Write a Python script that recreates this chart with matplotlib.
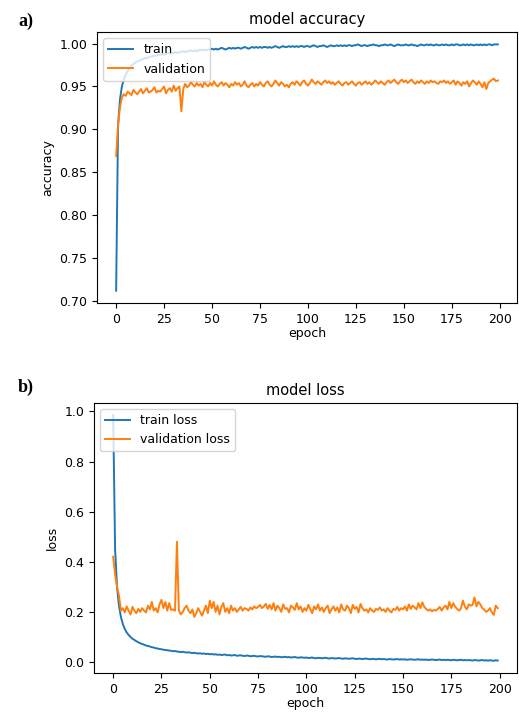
import matplotlib.pyplot as plt
import numpy as np

train_acc = [
    0.712, 0.905, 0.935, 0.950, 0.958, 0.964, 0.968, 0.971, 0.974, 0.976,
    0.978, 0.979, 0.980, 0.981, 0.982, 0.983, 0.983, 0.984, 0.985, 0.985,
    0.986, 0.986, 0.987, 0.987, 0.988, 0.987, 0.988, 0.989, 0.988, 0.989,
    0.989, 0.990, 0.989, 0.990, 0.990, 0.991, 0.990, 0.991, 0.991, 0.992,
    0.991, 0.992, 0.991, 0.992, 0.993, 0.992, 0.993, 0.992, 0.993, 0.993,
    0.994, 0.993, 0.994, 0.993, 0.994, 0.995, 0.994, 0.993, 0.994, 0.995,
    0.994, 0.995, 0.994, 0.995, 0.995, 0.994, 0.995, 0.996, 0.995, 0.994,
    0.995, 0.996, 0.995, 0.996, 0.995, 0.996, 0.995, 0.996, 0.996, 0.995,
    0.996, 0.995, 0.996, 0.997, 0.996, 0.995, 0.996, 0.997, 0.996, 0.996,
    0.997, 0.996, 0.997, 0.996, 0.997, 0.996, 0.997, 0.997, 0.996, 0.997,
    0.997, 0.996, 0.997, 0.998, 0.997, 0.996, 0.997, 0.997, 0.998, 0.997,
    0.996, 0.997, 0.998, 0.997, 0.997, 0.998, 0.997, 0.998, 0.997, 0.998,
    0.997, 0.998, 0.998, 0.997, 0.998, 0.998, 0.999, 0.998, 0.997, 0.998,
    0.998, 0.997, 0.998, 0.998, 0.999, 0.998, 0.998, 0.997, 0.998, 0.998,
    0.999, 0.998, 0.998, 0.999, 0.998, 0.997, 0.998, 0.999, 0.998, 0.998,
    0.998, 0.999, 0.998, 0.998, 0.999, 0.998, 0.998, 0.997, 0.998, 0.999,
    0.998, 0.998, 0.999, 0.998, 0.999, 0.998, 0.998, 0.999, 0.998, 0.998,
    0.999, 0.998, 0.999, 0.998, 0.998, 0.999, 0.998, 0.999, 0.999, 0.998,
    0.998, 0.999, 0.998, 0.999, 0.998, 0.999, 0.998, 0.998, 0.999, 0.998,
    0.999, 0.998, 0.999, 0.998, 0.999, 0.999, 0.998, 0.999, 0.999, 0.999,
]

val_acc = [
    0.869, 0.905, 0.926, 0.937, 0.941, 0.939, 0.944, 0.942, 0.940, 0.946,
    0.943, 0.941, 0.944, 0.947, 0.942, 0.945, 0.948, 0.943, 0.944, 0.946,
    0.949, 0.943, 0.945, 0.944, 0.947, 0.950, 0.942, 0.946, 0.948, 0.944,
    0.951, 0.945, 0.948, 0.950, 0.921, 0.947, 0.953, 0.949, 0.951, 0.955,
    0.952, 0.950, 0.954, 0.951, 0.953, 0.949, 0.955, 0.952, 0.950, 0.954,
    0.951, 0.956, 0.952, 0.950, 0.953, 0.955, 0.951, 0.954, 0.952, 0.949,
    0.953, 0.951, 0.955, 0.952, 0.954, 0.950, 0.952, 0.956, 0.951, 0.949,
    0.952, 0.954, 0.950, 0.953, 0.951, 0.955, 0.952, 0.950, 0.954, 0.956,
    0.952, 0.950, 0.953, 0.957, 0.954, 0.951, 0.955, 0.953, 0.950, 0.952,
    0.949, 0.953, 0.955, 0.952, 0.956, 0.954, 0.951, 0.955, 0.957, 0.953,
    0.951, 0.954, 0.958, 0.955, 0.953, 0.956, 0.954, 0.952, 0.955, 0.957,
    0.954, 0.956, 0.953, 0.955, 0.952, 0.954, 0.956, 0.953, 0.951, 0.954,
    0.955, 0.952, 0.954, 0.956, 0.953, 0.951, 0.954, 0.955, 0.952, 0.954,
    0.956, 0.953, 0.955, 0.952, 0.954, 0.957, 0.955, 0.953, 0.956, 0.954,
    0.952, 0.955, 0.957, 0.954, 0.956, 0.958, 0.955, 0.953, 0.956, 0.958,
    0.955, 0.957, 0.954, 0.956, 0.958, 0.955, 0.953, 0.956, 0.954, 0.957,
    0.955, 0.953, 0.956, 0.954, 0.957, 0.955, 0.956, 0.954, 0.953, 0.956,
    0.955, 0.957, 0.954, 0.956, 0.953, 0.955, 0.957, 0.952, 0.956, 0.954,
    0.951, 0.955, 0.953, 0.956, 0.950, 0.954, 0.957, 0.955, 0.952, 0.956,
    0.953, 0.949, 0.955, 0.947, 0.954, 0.956, 0.958, 0.959, 0.956, 0.957,
]

train_loss = [
    0.985, 0.450, 0.300, 0.225, 0.180, 0.152, 0.132, 0.118, 0.108, 0.100,
    0.093, 0.088, 0.083, 0.079, 0.075, 0.072, 0.069, 0.066, 0.064, 0.062,
    0.059, 0.058, 0.055, 0.054, 0.052, 0.051, 0.049, 0.048, 0.047, 0.046,
    0.045, 0.043, 0.044, 0.042, 0.041, 0.040, 0.041, 0.039, 0.038, 0.039,
    0.037, 0.036, 0.037, 0.035, 0.034, 0.035, 0.033, 0.034, 0.032, 0.033,
    0.031, 0.032, 0.030, 0.031, 0.029, 0.030, 0.028, 0.029, 0.030, 0.027,
    0.028, 0.026, 0.027, 0.028, 0.025, 0.026, 0.027, 0.025, 0.024, 0.026,
    0.025, 0.023, 0.024, 0.025, 0.023, 0.022, 0.024, 0.023, 0.022, 0.021,
    0.023, 0.022, 0.020, 0.021, 0.022, 0.020, 0.021, 0.019, 0.020, 0.021,
    0.019, 0.020, 0.018, 0.019, 0.020, 0.018, 0.017, 0.019, 0.018, 0.017,
    0.018, 0.016, 0.017, 0.018, 0.016, 0.015, 0.017, 0.016, 0.015, 0.016,
    0.017, 0.015, 0.014, 0.016, 0.015, 0.014, 0.015, 0.016, 0.014, 0.013,
    0.015, 0.014, 0.013, 0.014, 0.015, 0.013, 0.012, 0.014, 0.013, 0.012,
    0.013, 0.014, 0.012, 0.011, 0.013, 0.012, 0.011, 0.012, 0.013, 0.011,
    0.012, 0.011, 0.010, 0.012, 0.011, 0.010, 0.011, 0.012, 0.010, 0.011,
    0.010, 0.011, 0.009, 0.010, 0.011, 0.010, 0.009, 0.010, 0.011, 0.009,
    0.010, 0.009, 0.010, 0.008, 0.009, 0.010, 0.009, 0.008, 0.009, 0.010,
    0.008, 0.009, 0.008, 0.009, 0.008, 0.007, 0.009, 0.008, 0.007, 0.008,
    0.009, 0.007, 0.008, 0.007, 0.008, 0.007, 0.006, 0.008, 0.007, 0.006,
    0.007, 0.008, 0.006, 0.007, 0.006, 0.007, 0.006, 0.005, 0.007, 0.006,
]

val_loss = [
    0.420, 0.350, 0.300, 0.265, 0.205, 0.215, 0.198, 0.222, 0.205, 0.190,
    0.220, 0.205, 0.195, 0.212, 0.200, 0.215, 0.205, 0.198, 0.225, 0.210,
    0.240, 0.205, 0.215, 0.198, 0.230, 0.248, 0.215, 0.240, 0.205, 0.235,
    0.208, 0.210, 0.205, 0.480, 0.205, 0.190, 0.200, 0.215, 0.225, 0.205,
    0.195, 0.210, 0.180, 0.195, 0.215, 0.200, 0.185, 0.205, 0.225, 0.195,
    0.245, 0.215, 0.240, 0.200, 0.225, 0.190, 0.220, 0.235, 0.200, 0.215,
    0.195, 0.225, 0.205, 0.215, 0.200, 0.210, 0.220, 0.205, 0.215, 0.212,
    0.205, 0.218, 0.210, 0.222, 0.215, 0.220, 0.228, 0.215, 0.222, 0.232,
    0.212, 0.228, 0.210, 0.235, 0.205, 0.225, 0.215, 0.200, 0.230, 0.212,
    0.215, 0.198, 0.225, 0.218, 0.208, 0.235, 0.210, 0.222, 0.200, 0.215,
    0.205, 0.228, 0.212, 0.195, 0.222, 0.210, 0.230, 0.205, 0.218, 0.200,
    0.215, 0.225, 0.195, 0.210, 0.222, 0.205, 0.218, 0.198, 0.230, 0.210,
    0.205, 0.225, 0.215, 0.195, 0.228, 0.212, 0.220, 0.198, 0.232, 0.215,
    0.205, 0.210, 0.198, 0.215, 0.205, 0.200, 0.212, 0.208, 0.218, 0.205,
    0.210, 0.200, 0.215, 0.205, 0.198, 0.212, 0.208, 0.220, 0.205, 0.215,
    0.210, 0.222, 0.205, 0.230, 0.212, 0.225, 0.218, 0.210, 0.235, 0.215,
    0.238, 0.220, 0.212, 0.205, 0.210, 0.202, 0.208, 0.205, 0.212, 0.220,
    0.205, 0.218, 0.225, 0.210, 0.240, 0.215, 0.235, 0.220, 0.212, 0.205,
    0.215, 0.245, 0.222, 0.210, 0.230, 0.225, 0.228, 0.258, 0.222, 0.240,
    0.230, 0.215, 0.210, 0.200, 0.205, 0.215, 0.198, 0.188, 0.225, 0.215,
]

epochs = np.arange(len(train_acc))
xticks = [0, 25, 50, 75, 100, 125, 150, 175, 200]

fs = 9
fig = plt.figure(figsize=(5.19, 7.13), dpi=100)

ax1 = fig.add_axes([0.187, 0.575, 0.809, 0.380])
ax1.plot(epochs, train_acc, label="train", lw=1.4)
ax1.plot(epochs, val_acc, label="validation", lw=1.4)
ax1.set_title("model accuracy", fontsize=10.5)
ax1.set_ylabel("accuracy", fontsize=fs)
ax1.set_xlabel("epoch", fontsize=fs, labelpad=1)
ax1.tick_params(labelsize=fs)
ax1.set_xticks(xticks)
ax1.legend(loc="upper left", fontsize=fs)

ax2 = fig.add_axes([0.181, 0.056, 0.815, 0.379])
ax2.plot(epochs, train_loss, label="train loss", lw=1.4)
ax2.plot(epochs, val_loss, label="validation loss", lw=1.4)
ax2.set_title("model loss", fontsize=10.5)
ax2.set_ylabel("loss", fontsize=fs)
ax2.set_xlabel("epoch", fontsize=fs, labelpad=1)
ax2.tick_params(labelsize=fs)
ax2.set_xticks(xticks)
ax2.legend(loc="upper left", fontsize=fs)

fig.text(0.035, 0.963, "a)", fontsize=13, fontweight="bold", family="Liberation Serif")
fig.text(0.035, 0.450, "b)", fontsize=13, fontweight="bold", family="Liberation Serif")

fig.savefig("out.png", dpi=100)
